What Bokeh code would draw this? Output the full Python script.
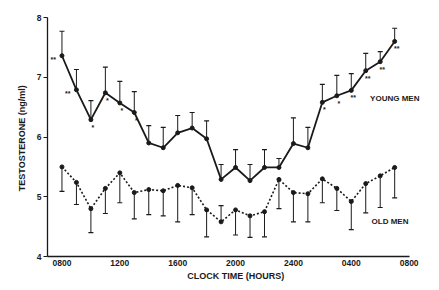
from bokeh.plotting import figure
from bokeh.models import FixedTicker, Label
from bokeh.core.properties import value
from bokeh.embed import file_html
from bokeh.resources import INLINE

hours = list(range(8, 32))  # 0800 .. 0700 next day
young = [7.36, 6.79, 6.29, 6.74, 6.57, 6.41, 5.90, 5.82, 6.07, 6.15, 5.97, 5.29,
         5.49, 5.27, 5.49, 5.49, 5.89, 5.82, 6.58, 6.69, 6.78, 7.11, 7.26, 7.60]
young_bar_end = [7.77, 7.13, 6.61, 7.17, 6.93, 6.76, 6.19, 6.16, 6.36, 6.41, 6.27, 5.54,
                 5.79, 5.54, 5.79, 5.64, 6.32, 6.16, 6.88, 7.03, 7.06, 7.40, 7.43, 7.82]
old = [5.50, 5.24, 4.80, 5.14, 5.40, 5.07, 5.12, 5.10, 5.19, 5.15, 4.78, 4.58,
       4.78, 4.68, 4.75, 5.29, 5.07, 5.05, 5.30, 5.14, 4.92, 5.22, 5.35, 5.49]
old_bar_end = [5.09, 4.87, 4.40, 4.72, 4.90, 4.63, 4.70, 4.68, 4.58, 4.70, 4.33, 4.85,
               4.36, 4.32, 4.33, 4.80, 4.58, 4.58, 4.90, 4.77, 4.45, 4.73, 4.82, 4.98]
young_stars = ["**", "**", "*", "*", "*", "*", "", "", "", "", "", "",
               "", "", "", "", "", "", "*", "*", "**", "**", "**", "**"]
tick_hours = [8, 12, 16, 20, 24, 28, 32]
tick_labels = ["0800", "1200", "1600", "2000", "2400", "0400", "0800"]

FONT = "Liberation Sans"
INK = "#1a1a1a"

p = figure(width=439, height=290, x_range=(7.0, 33.2), y_range=(4, 8),
           output_backend="svg", toolbar_location=None,
           min_border_left=47, min_border_right=13, min_border_top=17, min_border_bottom=34)
p.outline_line_color = None
p.grid.visible = False
p.background_fill_color = "white"

p.xaxis.ticker = FixedTicker(ticks=tick_hours)
p.xaxis.major_label_overrides = {h: l for h, l in zip(tick_hours, tick_labels)}
p.xaxis.bounds = (7.0, 32.0)
p.yaxis.ticker = FixedTicker(ticks=[4, 5, 6, 7, 8])
for ax in (p.xaxis, p.yaxis):
    ax.axis_line_color = INK
    ax.axis_line_width = 1.3
    ax.major_tick_line_color = INK
    ax.minor_tick_line_color = None
    ax.major_label_text_font = FONT
    ax.major_label_text_font_style = "bold"
    ax.major_label_text_font_size = "8.5px"
    ax.major_label_text_color = INK
    ax.axis_label_text_font = FONT
    ax.axis_label_text_font_style = "bold"
    ax.axis_label_text_font_size = "9px"
    ax.axis_label_text_color = INK
p.xaxis.major_tick_in = 0
p.xaxis.major_tick_out = 0
p.yaxis.major_tick_in = 0
p.yaxis.major_tick_out = 4
p.yaxis.major_label_standoff = 2
p.xaxis.major_label_standoff = 3
p.xaxis.axis_label = "CLOCK TIME  (HOURS)"
p.yaxis.axis_label = "TESTOSTERONE  (ng/ml)"
p.xaxis.axis_label_standoff = 2
p.yaxis.axis_label_standoff = 7

# error bars
p.segment(x0=hours, y0=young, x1=hours, y1=young_bar_end, line_color=INK, line_width=1)
p.scatter(x=hours, y=young_bar_end, marker="dash", size=5, line_color=INK, line_width=1.2)
p.segment(x0=hours, y0=old, x1=hours, y1=old_bar_end, line_color=INK, line_width=1)
p.scatter(x=hours, y=old_bar_end, marker="dash", size=5, line_color=INK, line_width=1.2)

# lines
p.line(hours, young, line_color=INK, line_width=1.8)
p.scatter(hours, young, size=4, color=INK)
p.line(hours, old, line_color=INK, line_width=1.6, line_dash="2 2")
p.scatter(hours, old, size=4, color=INK)

# significance stars
left_idx = [0, 1]
below_idx = [i for i, s in enumerate(young_stars) if s and i not in left_idx]
p.text(x=[hours[i] for i in left_idx], y=[young[i] for i in left_idx],
       text=[young_stars[i] for i in left_idx], x_offset=-6, y_offset=4,
       text_align="right", text_baseline="middle", text_font=value(FONT),
       text_font_style="bold", text_font_size="7px", text_color=INK)
p.text(x=[hours[i] for i in below_idx], y=[young[i] for i in below_idx],
       text=[young_stars[i] for i in below_idx], x_offset=2, y_offset=4,
       text_align="center", text_baseline="top", text_font=value(FONT),
       text_font_style="bold", text_font_size="7px", text_color=INK)

p.add_layout(Label(x=29.3, y=6.64, text="YOUNG  MEN", text_font=FONT, text_font_style="bold",
                   text_font_size="8px", text_color=INK, text_baseline="middle"))
p.add_layout(Label(x=29.4, y=4.58, text="OLD  MEN", text_font=FONT, text_font_style="bold",
                   text_font_size="8px", text_color=INK, text_baseline="middle"))

open("out.html", "w").write(file_html(p, INLINE))
